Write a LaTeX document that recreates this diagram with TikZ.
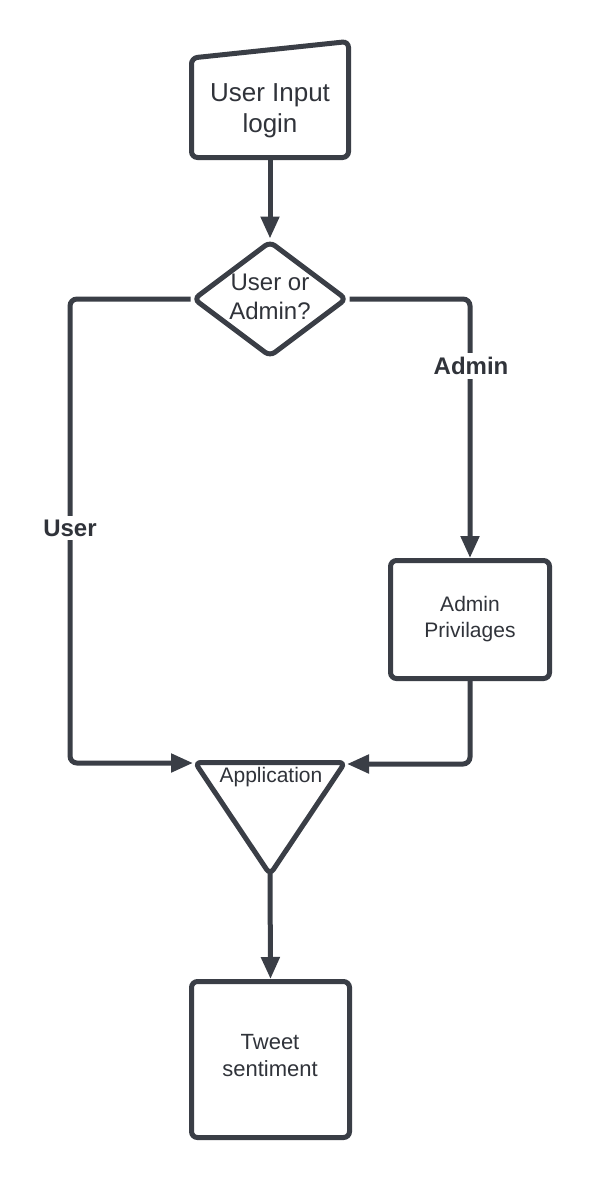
\documentclass[tikz,border=0pt]{standalone}
\usepackage{fontspec}
\setmainfont{Liberation Sans}
\usetikzlibrary{shapes.geometric,arrows.meta}
\definecolor{ink}{HTML}{3A3E46}
\definecolor{txt}{HTML}{30333A}
\begin{document}
\begin{tikzpicture}[x=1pt,y=-1pt,
  shp/.style={draw=ink,line width=5pt,rounded corners=6pt,fill=white},
  conn/.style={draw=ink,line width=5pt,rounded corners=7pt,-{Triangle[length=22pt,width=18pt]}},
  tx/.style={text=txt,align=center,inner sep=0pt},
  lbl/.style={text=txt,font=\fontsize{24}{28}\selectfont\bfseries,fill=white,inner sep=4pt}
]
\useasboundingbox[fill=white] (0,0) rectangle (590,1180);

% manual input
\draw[shp] (191.5,58) -- (348.5,41.5) -- (348.5,157.5) -- (191.5,157.5) -- cycle;
\node[tx,font=\fontsize{26}{31}\selectfont] (inp) at (270,111) {User Input\\login};
\coordinate (inpB) at (270,160);

% decision
\node[shp,diamond,minimum width=154pt,minimum height=116pt,inner sep=0pt] (dec) at (270,299) {};
\node[tx,font=\fontsize{24}{29}\selectfont] (dectxt) at (270,297) {User or\\Admin?};

% admin box
\node[shp,rectangle,minimum width=159pt,minimum height=118pt] (adm) at (470,619.5) {};
\node[tx,font=\fontsize{21}{26}\selectfont] (admtxt) at (470,619) {Admin\\Privilages};

% application triangle
\draw[shp] (195,762.5) -- (345,762.5) -- (270,874.5) -- cycle;
\node[tx,font=\fontsize{21}{25}\selectfont] (app) at (271,777) {Application};
\coordinate (appL) at (193,763);
\coordinate (appR) at (347,764);
\coordinate (appB) at (270,872);

% tweet sentiment
\node[shp,rectangle,minimum width=158pt,minimum height=156pt] (tw) at (270.5,1059.5) {};
\node[tx,font=\fontsize{22}{27}\selectfont] (twtxt) at (270,1056) {Tweet\\sentiment};

\coordinate (lcol) at (70,0);

% connectors
\draw[conn] (inpB) -- (dec.north);
\draw[conn] (dec.west) -| (lcol |- appL) -- (appL);
\draw[conn] (dec.east) -| (adm.north);
\draw[conn] (adm.south) |- (appR);
\draw[conn] (appB) -- (tw.north);

% labels
\node[lbl] (ladm) at (471,366) {Admin};
\node[lbl] (lusr) at (70,528) {User};
\end{tikzpicture}
\end{document}
